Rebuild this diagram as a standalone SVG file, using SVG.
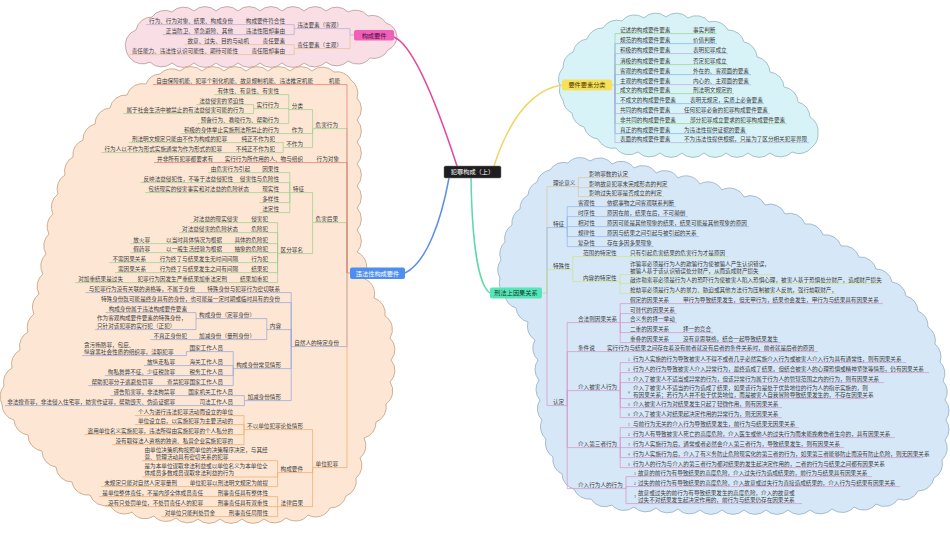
<svg xmlns="http://www.w3.org/2000/svg" width="950" height="535" viewBox="0 0 950 535">
<style>
.t{font-family:"Noto Sans CJK SC","Noto Sans",sans-serif;font-size:5.6px;fill:#3c3c3c}
.e{text-anchor:end}
.k{font-size:3.4px;fill:#666}
.bt{font-family:"Noto Sans CJK SC","Noto Sans",sans-serif;font-size:6.2px;text-anchor:middle}
.lk{fill:none;stroke-width:0.7}
.main{fill:none;stroke-width:1.5}
.cl{stroke-width:0.8}
.red{stroke:#e57373}.grn{stroke:#95d08c}.pur{stroke:#b4a7d6}.tan{stroke:#e3c28f}.blu{stroke:#8fa3e0}.org{stroke:#f0aa62}
.c1{stroke:#9bd38f}.c2{stroke:#8aaeea}.c3{stroke:#b9aee0}
.tn{stroke:#dcc49a}.sb{stroke:#8fb4e6}.yg{stroke:#d3e27c}.pk{stroke:#d890c6}
</style>
<rect width="950" height="535" fill="#ffffff"/>
<g id="clouds">
<path class="cl" fill="#f9dee5" stroke="#b79a98" d="M126 50 A16 16 0 0 1 136 30 A16 16 0 0 1 152 17 A16 16 0 0 1 172 12 A16 16 0 0 1 194 11 A16 16 0 0 1 216 11 A16 16 0 0 1 238 11 A16 16 0 0 1 260 11 A16 16 0 0 1 282 11 A16 16 0 0 1 304 11 A16 16 0 0 1 326 11 A16 16 0 0 1 348 12 A16 16 0 0 1 368 16 A16 16 0 0 1 386 23 A16 16 0 0 1 397 36 A16 16 0 0 1 388 50 A16 16 0 0 1 370 58 A16 16 0 0 1 348 61 A16 16 0 0 1 326 62 A16 16 0 0 1 304 63 A16 16 0 0 1 282 63 A16 16 0 0 1 260 63 A16 16 0 0 1 238 63 A16 16 0 0 1 216 63 A16 16 0 0 1 194 63 A16 16 0 0 1 172 63 A16 16 0 0 1 150 62 A16 16 0 0 1 130 58 A16 16 0 0 1 126 50 Z"/>
<path class="cl" fill="#fde7d4" stroke="#c3a07c" d="M146 84 A16 16 0 0 1 160 74 A16 16 0 0 1 180 71 A16 16 0 0 1 202 71 A16 16 0 0 1 224 71 A16 16 0 0 1 246 71 A16 16 0 0 1 268 71 A16 16 0 0 1 290 71 A16 16 0 0 1 312 71 A16 16 0 0 1 334 72 A16 16 0 0 1 351 80 A16 16 0 0 1 357 98 A16 16 0 0 1 357 120 A16 16 0 0 1 357 142 A16 16 0 0 1 357 164 A16 16 0 0 1 357 186 A16 16 0 0 1 357 208 A16 16 0 0 1 357 230 A16 16 0 0 1 357 252 A16 16 0 0 1 362 278 A16 16 0 0 1 374 298 A16 16 0 0 1 385 316 A16 16 0 0 1 390 338 A16 16 0 0 1 391 360 A16 16 0 0 1 390 382 A16 16 0 0 1 386 404 A16 16 0 0 1 376 422 A16 16 0 0 1 364 438 A16 16 0 0 1 360 458 A16 16 0 0 1 356 478 A16 16 0 0 1 346 496 A16 16 0 0 1 330 508 A16 16 0 0 1 308 515 A16 16 0 0 1 286 518 A16 16 0 0 1 264 519 A16 16 0 0 1 242 519 A16 16 0 0 1 220 519 A16 16 0 0 1 198 519 A16 16 0 0 1 176 518 A16 16 0 0 1 154 516 A16 16 0 0 1 132 512 A16 16 0 0 1 110 505 A16 16 0 0 1 90 495 A16 16 0 0 1 72 482 A16 16 0 0 1 56 467 A16 16 0 0 1 42 451 A16 16 0 0 1 28 435 A16 16 0 0 1 14 420 A16 16 0 0 1 2 404 A16 16 0 0 1 4 386 A16 16 0 0 1 12 368 A16 16 0 0 1 20 350 A16 16 0 0 1 28 332 A16 16 0 0 1 34 314 A16 16 0 0 1 39 294 A16 16 0 0 1 43 274 A16 16 0 0 1 46 254 A16 16 0 0 1 49 234 A16 16 0 0 1 53 214 A16 16 0 0 1 58 194 A16 16 0 0 1 65 175 A16 16 0 0 1 73 157 A16 16 0 0 1 83 140 A16 16 0 0 1 95 124 A16 16 0 0 1 110 108 A16 16 0 0 1 127 95 A16 16 0 0 1 146 84 Z"/>
<path class="cl" fill="#d8f3f7" stroke="#95b2bd" d="M560 86 A16 16 0 0 1 563 68 A16 16 0 0 1 573 52 A16 16 0 0 1 587 39 A16 16 0 0 1 603 28 A16 16 0 0 1 622 21 A16 16 0 0 1 644 18 A16 16 0 0 1 666 17 A16 16 0 0 1 688 18 A16 16 0 0 1 709 22 A16 16 0 0 1 728 30 A16 16 0 0 1 744 42 A16 16 0 0 1 757 57 A16 16 0 0 1 770 72 A16 16 0 0 1 784 87 A16 16 0 0 1 798 102 A16 16 0 0 1 810 117 A16 16 0 0 1 818 133 A16 16 0 0 1 812 147 A16 16 0 0 1 792 152 A16 16 0 0 1 770 153 A16 16 0 0 1 748 153 A16 16 0 0 1 726 153 A16 16 0 0 1 704 153 A16 16 0 0 1 682 153 A16 16 0 0 1 660 153 A16 16 0 0 1 638 152 A16 16 0 0 1 616 148 A16 16 0 0 1 598 139 A16 16 0 0 1 584 127 A16 16 0 0 1 572 113 A16 16 0 0 1 563 100 A16 16 0 0 1 560 86 Z"/>
<path class="cl" fill="#d6e8f8" stroke="#95adc0" d="M537 182 A16 16 0 0 1 550 170 A16 16 0 0 1 568 163 A16 16 0 0 1 590 161 A16 16 0 0 1 612 164 A16 16 0 0 1 634 168 A16 16 0 0 1 656 173 A16 16 0 0 1 678 178 A16 16 0 0 1 700 184 A16 16 0 0 1 722 190 A16 16 0 0 1 744 197 A16 16 0 0 1 765 205 A16 16 0 0 1 785 214 A16 16 0 0 1 805 224 A16 16 0 0 1 823 235 A16 16 0 0 1 841 246 A16 16 0 0 1 859 257 A16 16 0 0 1 876 269 A16 16 0 0 1 892 282 A16 16 0 0 1 906 296 A16 16 0 0 1 918 311 A16 16 0 0 1 928 327 A16 16 0 0 1 935 344 A16 16 0 0 1 940 362 A16 16 0 0 1 943 381 A16 16 0 0 1 945 400 A16 16 0 0 1 946 420 A16 16 0 0 1 945 440 A16 16 0 0 1 942 460 A16 16 0 0 1 934 478 A16 16 0 0 1 918 491 A16 16 0 0 1 898 499 A16 16 0 0 1 876 504 A16 16 0 0 1 854 507 A16 16 0 0 1 832 509 A16 16 0 0 1 810 510 A16 16 0 0 1 788 510 A16 16 0 0 1 766 510 A16 16 0 0 1 744 510 A16 16 0 0 1 722 510 A16 16 0 0 1 700 510 A16 16 0 0 1 678 509 A16 16 0 0 1 656 508 A16 16 0 0 1 634 507 A16 16 0 0 1 612 505 A16 16 0 0 1 591 499 A16 16 0 0 1 574 489 A16 16 0 0 1 562 474 A16 16 0 0 1 553 457 A16 16 0 0 1 546 439 A16 16 0 0 1 542 420 A16 16 0 0 1 540 400 A16 16 0 0 1 539 380 A16 16 0 0 1 538 360 A16 16 0 0 1 535 340 A16 16 0 0 1 528 322 A16 16 0 0 1 516 308 A16 16 0 0 1 505 295 A16 16 0 0 1 500 278 A16 16 0 0 1 501 260 A16 16 0 0 1 505 242 A16 16 0 0 1 512 225 A16 16 0 0 1 520 209 A16 16 0 0 1 528 195 A16 16 0 0 1 537 182 Z"/>
</g>
<g id="connectors">
<path class="main" stroke="#e4479f" d="M394 37 C416 46 442 120 457 166"/>
<path class="main" stroke="#5a8fe6" d="M449 178 C441 222 426 263 405 273"/>
<path class="main" stroke="#f0d460" d="M494 166 C509 120 530 90 562 85"/>
<path class="main" stroke="#5fd8aa" d="M471 178 C472 240 478 285 490 293"/>
<path class="lk pur" d="M354 35 H350 V28.6 H294.2 M294.2 28.6 V24.6 H146 M294.2 28.6 V34.6 H162.8"/>
<path class="lk tan" d="M350 35 V48.6 H294.2 M294.2 48.6 V44.6 H184.4 M294.2 48.6 V54.6 H128.6"/>
<path class="lk grn" d="M347 273 V128.6 H312.6 M312.6 128.6 V109.6 H288.8 M288.8 109.6 V94.6 H214.4 M288.8 109.6 V108.6 H253.6 M253.6 108.6 V104.6 H196.2 M253.6 108.6 V113.6 H123.4 M288.8 109.6 V123.6 H197.6 M312.6 128.6 V133.6 H180.8 M312.6 128.6 V147.6 H283.2 M283.2 147.6 V142.6 H128.8 M283.2 147.6 V152.6 H101.4"/>
<path class="lk grn" d="M347 273 V222.6 H312.6 M312.6 222.6 V192.6 H289.8 M289.8 192.6 V172.6 H207.8 M289.8 192.6 V182.6 H140.4 M289.8 192.6 H145.2 M289.8 192.6 V202.6 H259.2 M289.8 192.6 V212.6 H259.2 M312.6 222.6 V253.6 H277.6 M277.6 253.6 V222.6 H190.2 M277.6 253.6 V232.6 H179 M277.6 253.6 V243.6 H130.2 M277.6 253.6 V252.6 H130.2 M277.6 253.6 V262.6 H109.4 M277.6 253.6 V272.6 H115 M277.6 253.6 V282.6 H75.2"/>
<path class="lk red" d="M347 273 V84.6 H153 M347 273 V162.6 H154 M350 273 H347"/>
<path class="lk blu" d="M347 273 V346.6 H291.2 M291.2 346.6 V292.6 H85.6 M291.2 346.6 V302.6 H109 M291.2 346.6 V329.6 H266.8 M266.8 329.6 V318.6 H196 M196 318.6 V312.6 H105.6 M196 318.6 V329.6 H95 M266.8 329.6 V339.6 H150.4 M291.2 346.6 V368.6 H233.2 M233.2 368.6 V351.6 H186.4 V355.6 H82 M233.2 368.6 V365.6 H144 M233.2 368.6 V375.6 H104.8 M233.2 368.6 V385.6 H88.4 M291.2 346.6 V400.6 H244.4 M244.4 400.6 V395.6 H110.4 M244.4 400.6 V405.6 H5"/>
<path class="lk org" d="M347 273 V467.6 H312.6 M312.6 467.6 V429.6 H244 M244 429.6 V415.6 H134.8 M244 429.6 V424.6 H134.8 M244 429.6 V434.6 H84.4 M244 429.6 V444.6 H112.4 M312.6 467.6 V472.6 H277.6 M277.6 472.6 V460.6 H142 M277.6 472.6 V477 H142 M277.6 472.6 V486.6 H101.2 M312.6 467.6 V506.6 H277.6 M277.6 506.6 V496.6 H99.2 M277.6 506.6 H104.8 M277.6 506.6 V516.6 H161.6"/>
<path class="lk c1" d="M612 85 H615 V33.6 H717 M615 85 V64.6 H728 M615 85 V93.6 H734 M615 85 V123.6 H787"/>
<path class="lk c2" d="M615 85 V43.6 H717 M615 85 V74.6 H751 M615 85 V103.6 H764 M615 85 V133.6 H747"/>
<path class="lk c3" d="M615 85 V53.6 H728 M615 85 V84.6 H751 M615 85 V113.6 H770 M615 85 V142.6 H809"/>
<path class="lk tn" d="M542 293 H547 V186.6 H578.4 M578.4 186.6 V177.6 H630 M578.4 186.6 V187.6 H669 M578.4 186.6 V196.6 H664"/>
<path class="lk sb" d="M547 293 V227.6 H567.2 M567.2 227.6 V206.6 H676 M567.2 227.6 V216.6 H688 M567.2 227.6 V226.6 H749 M567.2 227.6 V236.6 H699 M567.2 227.6 V246.6 H654"/>
<path class="lk yg" d="M547 293 V269.6 H572.8 M572.8 269.6 V256.6 H728 M572.8 269.6 V281.6 H620 M620 281.6 V274.6 H772 M620 281.6 V283.6 H881 M620 281.6 V293.6 H836"/>
<path class="lk pk" d="M547 293 V405.6 H567.2 M567.2 405.6 V322.6 H620.2 M620.2 322.6 V303.6 H883 M620.2 322.6 V313.6 H677 M620.2 322.6 H677 M620.2 322.6 V332.6 H713 M620.2 322.6 V342.6 H781 M567.2 405.6 V351.6 H818 M567.2 405.6 V390.6 H620.2 M620.2 390.6 V362.6 H906 M620.2 390.6 V372.6 H929 M620.2 390.6 V382.6 H884 M620.2 390.6 V398.6 H867 M620.2 390.6 V407.6 H782 M620.2 390.6 V417.6 H782 M567.2 405.6 V447.6 H620.2 M620.2 447.6 V427.6 H799 M620.2 447.6 V437.6 H895 M620.2 447.6 H844 M620.2 447.6 V457.6 H923 M620.2 447.6 V467.6 H872 M567.2 405.6 V488.6 H626 M626 488.6 V476.6 H872 M626 488.6 V486.6 H900 M626 488.6 V503.6 H802"/>
</g>
<g id="root">
<rect x="444" y="166" width="57" height="12" rx="1.5" fill="#1e1e1e" stroke="#777" stroke-width="0.5"/>
<text class="bt" x="472.5" y="174.3" fill="#ffffff">犯罪构成（上）</text>
</g>
<g id="n-gouchengyaojian">
<rect x="354" y="30" width="40" height="10.5" rx="2" fill="#f060b8"/>
<text class="bt" x="374" y="37.5" fill="#4a1040">构成要件</text>
</g>
<g id="n-gouchengyaojian-sub">
<text class="t e" x="342" y="27">违法要素（客观）</text>
<text class="t e" x="285" y="23">构成要件符合性</text>
<text class="t e" x="233" y="23">行为、行为对象、结果、构成身份</text>
<text class="t e" x="285" y="33">违法性阻却事由</text>
<text class="t e" x="233" y="33">正当防卫、紧急避险、其他</text>
<text class="t e" x="342" y="47">责任要素（主观）</text>
<text class="t e" x="285" y="43">责任要素</text>
<text class="t e" x="249" y="43">故意、过失、目的与动机</text>
<text class="t e" x="285" y="53">责任阻却事由</text>
<text class="t e" x="238" y="53">责任能力、违法性认识可能性、期待可能性</text>
</g>
<g id="n-weifaxing">
<rect x="350" y="267.5" width="55" height="11.5" rx="2" fill="#4d8ef0"/>
<text class="bt" x="377.5" y="275.5" fill="#ffffff">违法性构成要件</text>
</g>
<g id="n-jineng">
<text class="t e" x="340" y="83">机能</text>
<text class="t e" x="313" y="83">自由保障机能、犯罪个别化机能、故意规制机能、违法推定机能</text>
</g>
<g id="n-weihaixingwei">
<text class="t e" x="338" y="127">危害行为</text>
<text class="t e" x="303" y="108">分类</text>
<text class="t e" x="279" y="93">有体性、有意性、有害性</text>
<text class="t e" x="279" y="107">实行行为</text>
<text class="t e" x="244" y="103">法益侵害的紧迫性</text>
<text class="t e" x="244" y="112">属于社会生活中被禁止的有法益侵害可能的行为</text>
<text class="t e" x="279" y="122">预备行为、教唆行为、帮助行为</text>
<text class="t e" x="303" y="132">作为</text>
<text class="t e" x="279" y="132">积极的身体举止实施刑法所禁止的行为</text>
<text class="t e" x="303" y="146">不作为</text>
<text class="t e" x="275" y="141">纯正不作为犯</text>
<text class="t e" x="227" y="141">刑法明文规定只能由不作为构成的犯罪</text>
<text class="t e" x="275" y="151">不纯正不作为犯</text>
<text class="t e" x="222" y="151">行为人以不作为形式实施通常为作为形式的犯罪</text>
</g>
<g id="n-xingweiduixiang">
<text class="t e" x="339" y="161">行为对象</text>
<text class="t e" x="303" y="161">实行行为所作用的人、物与组织</text>
<text class="t e" x="213" y="161">并非所有犯罪都要求有</text>
</g>
<g id="n-weihaihouguo">
<text class="t e" x="338" y="221">危害后果</text>
<text class="t e" x="304" y="191">特征</text>
<text class="t e" x="279" y="171">因果性</text>
<text class="t e" x="250" y="171">由危害行为引起</text>
<text class="t e" x="279" y="181">侵害性与危险性</text>
<text class="t e" x="233" y="181">反映法益侵犯性，不等于法益侵犯性</text>
<text class="t e" x="279" y="191">现实性</text>
<text class="t e" x="249" y="191">包括现实的侵害事实和对法益的危险状态</text>
<text class="t e" x="279" y="201">多样性</text>
<text class="t e" x="279" y="211">法定性</text>
<text class="t e" x="303" y="252">区分罪名</text>
<text class="t e" x="268" y="221">侵害犯</text>
<text class="t e" x="238" y="221">对法益的现实侵害</text>
<text class="t e" x="268" y="231">危险犯</text>
<text class="t e" x="238" y="231">对法益侵害的危险状态</text>
<text class="t e" x="268" y="242">具体的危险犯</text>
<text class="t e" x="222" y="242">以当时具体情况为根据</text>
<text class="t e" x="150" y="242">放火罪</text>
<text class="t e" x="268" y="251">抽象的危险犯</text>
<text class="t e" x="222" y="251">以一般生活经验为根据</text>
<text class="t e" x="150" y="251">假药罪</text>
<text class="t e" x="268" y="261">行为犯</text>
<text class="t e" x="238" y="261">行为终了与结果发生无时间间隔</text>
<text class="t e" x="146" y="261">不需因果关系</text>
<text class="t e" x="268" y="271">结果犯</text>
<text class="t e" x="238" y="271">行为终了与结果发生之间有间隔</text>
<text class="t e" x="146" y="271">需因果关系</text>
<text class="t e" x="268" y="281">结果加重犯</text>
<text class="t e" x="227" y="281">犯罪行为因发生严重结果加重法定刑</text>
<text class="t e" x="123" y="281">对加重结果是过失</text>
</g>
<g id="n-ziranren">
<text class="t e" x="339" y="345">自然人的特定身份</text>
<text class="t e" x="280" y="291">特殊身份与犯罪行为密切联系</text>
<text class="t e" x="195" y="291">与犯罪行为没有关联的资格等，不属于身份</text>
<text class="t e" x="280" y="301">特殊身份既可能是终身具有的身份，也可能是一定时期或临时具有的身份</text>
<text class="t e" x="281" y="328">内容</text>
<text class="t e" x="255" y="317">构成身份（定罪身份）</text>
<text class="t e" x="187" y="311">构成身份属于违法构成要件要素</text>
<text class="t" x="97" y="320">作为客观构成要件要素的特殊身份，</text>
<text class="t" x="97" y="328">只针对该犯罪的实行犯（正犯）</text>
<text class="t e" x="255" y="338">加减身份（量刑身份）</text>
<text class="t e" x="187" y="338">不真正身份犯</text>
<text class="t e" x="281" y="367">构成身份常见情形</text>
<text class="t e" x="223" y="350">国家工作人员</text>
<text class="t" x="84" y="347">贪污贿赂罪，包庇、</text>
<text class="t" x="84" y="354">纵容黑社会性质的组织罪，渎职犯罪</text>
<text class="t e" x="223" y="364">海关工作人员</text>
<text class="t e" x="175" y="364">放纵走私罪</text>
<text class="t e" x="223" y="374">税务工作人员</text>
<text class="t e" x="175" y="374">徇私舞弊不征、少征税款罪</text>
<text class="t e" x="223" y="384">查禁犯罪国家工作人员</text>
<text class="t e" x="153" y="384">帮助犯罪分子逃避处罚罪</text>
<text class="t e" x="281" y="399">加减身份情形</text>
<text class="t e" x="233" y="394">国家机关工作人员</text>
<text class="t e" x="175" y="394">诬告陷害罪，非法拘禁罪</text>
<text class="t e" x="233" y="404">司法工作人员</text>
<text class="t e" x="175" y="404">非法搜查罪，非法侵入住宅罪，妨害作证罪，帮助毁灭、伪造证据罪</text>
</g>
<g id="n-danweifanzui">
<text class="t e" x="338" y="466">单位犯罪</text>
<text class="t e" x="303" y="428">不以单位犯罪论处情形</text>
<text class="t e" x="233" y="414">个人为进行违法犯罪活动而设立的单位</text>
<text class="t e" x="233" y="423">单位设立后，以实施犯罪为主要活动的</text>
<text class="t e" x="233" y="433">盗用单位名义实施犯罪，违法所得由实施犯罪的个人私分的</text>
<text class="t e" x="233" y="443">没有取得法人资格的独资、私营企业实施犯罪的</text>
<text class="t e" x="303" y="471">构成要件</text>
<text class="t" x="144.5" y="452">由单位决策机构按照单位的决策程序决定，与其经</text>
<text class="t" x="144.5" y="459">营、管理活动具有密切关系的犯罪</text>
<text class="t" x="144.5" y="468.3">是为本单位谋取非法利益或以单位名义为本单位全</text>
<text class="t" x="144.5" y="475.3">体成员多数成员谋取非法利益的行为</text>
<text class="t e" x="268" y="485">单位犯罪以刑法明文规定为前提</text>
<text class="t e" x="177" y="485">未规定只能对自然人定罪量刑</text>
<text class="t e" x="303" y="505">法律后果</text>
<text class="t e" x="268" y="495">刑事责任具有整体性</text>
<text class="t e" x="203" y="495">是单位整体责任，不是内部全体成员责任</text>
<text class="t e" x="268" y="505">刑事责任具有双重性</text>
<text class="t e" x="203" y="505">没有只处罚单位，不处罚责任人的犯罪</text>
<text class="t e" x="268" y="515">刑事责任局限性</text>
<text class="t e" x="215" y="515">对单位只能判处罚金</text>
</g>
<g id="n-yaojianfenlei">
<rect x="562" y="79.5" width="50" height="11" rx="2" fill="#f7e15a"/>
<text class="bt" x="587" y="87.2" fill="#4a3a00">要件要素分类</text>
</g>
<g id="n-yaojianfenlei-sub">
<text class="t" x="620" y="32">记述的构成要件要素</text><text class="t" x="693" y="32">事实判断</text>
<text class="t" x="620" y="42">规范的构成要件要素</text><text class="t" x="693" y="42">价值判断</text>
<text class="t" x="620" y="52">积极的构成要件要素</text><text class="t" x="693" y="52">表明犯罪成立</text>
<text class="t" x="620" y="63">消极的构成要件要素</text><text class="t" x="693" y="63">否定犯罪成立</text>
<text class="t" x="620" y="73">客观的构成要件要素</text><text class="t" x="693" y="73">外在的、客观面的要素</text>
<text class="t" x="620" y="83">主观的构成要件要素</text><text class="t" x="693" y="83">内心的、主观面的要素</text>
<text class="t" x="620" y="92">成文的构成要件要素</text><text class="t" x="693" y="92">刑法明文规定的</text>
<text class="t" x="620" y="102">不成文的构成要件要素</text><text class="t" x="690" y="102">表明无规定，实质上必备要素</text>
<text class="t" x="620" y="112">共同的构成要件要素</text><text class="t" x="684" y="112">任何犯罪必备的犯罪构成要件要素</text>
<text class="t" x="620" y="122">非共同的构成要件要素</text><text class="t" x="690" y="122">部分犯罪成立要求的犯罪构成要件要素</text>
<text class="t" x="620" y="132">真正的构成要件要素</text><text class="t" x="684" y="132">为违法性提供证据的要素</text>
<text class="t" x="620" y="141">表面的构成要件要素</text><text class="t" x="684" y="141">不为违法性提供根据，只是为了区分相关犯罪界限</text>
</g>
<g id="n-yinguo">
<rect x="490" y="287.5" width="52" height="11" rx="2" fill="#55e6b8"/>
<text class="bt" x="516" y="295.2" fill="#153a2e">刑法上因果关系</text>
</g>
<g id="n-lilunyiyi">
<text class="t" x="553" y="185">理论意义</text>
<text class="t" x="589" y="176">影响罪数的认定</text>
<text class="t" x="589" y="186">影响故意犯罪未完成形态的判定</text>
<text class="t" x="589" y="195">影响过失犯罪是否成立的判定</text>
</g>
<g id="n-tezheng">
<text class="t" x="553" y="226">特征</text>
<text class="t" x="578" y="205">客观性</text><text class="t" x="607" y="205">依据事物之间客观联系判断</text>
<text class="t" x="578" y="215">时序性</text><text class="t" x="607" y="215">原因在前，结果在后，不可颠倒</text>
<text class="t" x="578" y="225">相对性</text><text class="t" x="607" y="225">原因可能是其他现象的结果，结果可能是其他现象的原因</text>
<text class="t" x="578" y="235">规律性</text><text class="t" x="607" y="235">原因与结果之间引起与被引起的关系</text>
<text class="t" x="578" y="245">复杂性</text><text class="t" x="607" y="245">存在多因多果现象</text>
</g>
<g id="n-teshuxing">
<text class="t" x="553" y="268">特殊性</text>
<text class="t" x="583" y="255">范围的特定性</text><text class="t" x="630" y="255">只有引起危害结果的危害行为才是原因</text>
<text class="t" x="583" y="280">内容的特定性</text>
<text class="t" x="630" y="266">诈骗罪必须是行为人的欺骗行为使被骗人产生认识错误，</text>
<text class="t" x="630" y="273">被骗人基于该认识错误处分财产，从而造成财产损失</text>
<text class="t" x="630" y="282">敲诈勒索罪必须是行为人的恐吓行为使被害人陷入恐惧心理，被害人基于恐惧处分财产，造成财产损失</text>
<text class="t" x="630" y="292">抢劫罪必须是行为人的暴力、胁迫或其他方法行为压制被害人反抗，强行劫取财产，</text>
</g>
<g id="n-rending">
<text class="t" x="553" y="404">认定</text>
<text class="t" x="578" y="321">合法则因果关系</text>
<text class="t" x="630" y="302">假定的因果关系</text><text class="t" x="683" y="302">甲行为导致结果发生，但无甲行为，结果也会发生，甲行为与结果具有因果关系</text>
<text class="t" x="630" y="312">可替代的因果关系</text>
<text class="t" x="630" y="321">合义务的择一举动</text>
<text class="t" x="630" y="331">二重的因果关系</text><text class="t" x="683" y="331">择一的竞合</text>
<text class="t" x="630" y="341">重叠的因果关系</text><text class="t" x="683" y="341">没有意思联络，结合一起导致结果发生</text>
<text class="t" x="578" y="350">条件说</text><text class="t" x="607" y="350">实行行为与结果之间存在着没有前者就没有后者的条件关系时，前者就是后者的原因</text>
<text class="t" x="578" y="389">介入被害人行为</text>
<text class="t k" x="628" y="360.5">1</text><text class="t" x="633" y="361">行为人实施的行为导致被害人不得不或者几乎必然实施介入行为或被害人介入行为具有通常性，则有因果关系</text>
<text class="t k" x="628" y="370.5">2</text><text class="t" x="633" y="371">行为人的行为导致被害人介入异常行为，最终造成了结果，但结合被害人的心理恐惧或精神紧张等情形，仍有因果关系</text>
<text class="t k" x="628" y="380.5">3</text><text class="t" x="633" y="381">介入了被害人不适当或异常的行为，但该异常行为属于行为人的管辖范围之内的行为，则有因果关系</text>
<text class="t k" x="628" y="393.5">4</text><text class="t" x="633" y="390">介入了被害人不适当的行为造成了结果，如果该行为是处于优势地位的行为人的指示实施的，则</text>
<text class="t" x="633" y="397">有因果关系；若行为人并不处于优势地位，而是被害人自我冒险导致结果发生的，不存在因果关系</text>
<text class="t k" x="628" y="405.5">5</text><text class="t" x="633" y="406">介入被害人行为对结果发生只起了轻微作用，则有因果关系</text>
<text class="t k" x="628" y="415.5">6</text><text class="t" x="633" y="416">介入了被害人对结果起决定作用的异常行为，则无因果关系</text>
<text class="t" x="578" y="446">介入第三者行为</text>
<text class="t k" x="628" y="425.5">1</text><text class="t" x="633" y="426">与前行为无关的介入行为导致结果发生，前行为与结果无因果关系</text>
<text class="t k" x="628" y="435.5">2</text><text class="t" x="633" y="436">行为人有导致被害人死亡的高度危险，介入医生或他人的过失行为而未能挽救伤者生命的，具有因果关系</text>
<text class="t k" x="628" y="445.5">3</text><text class="t" x="633" y="446">行为人实施行为后，通常或者必然会介入第三者行为，导致结果发生，则有因果关系</text>
<text class="t k" x="628" y="455.5">4</text><text class="t" x="633" y="456">行为人实施行为后，介入了有义务防止危险现实化的第三者的行为，如果第三者能够防止而没有防止危险，则无因果关系</text>
<text class="t k" x="628" y="465.5">5</text><text class="t" x="633" y="466">行为人的行为与介入的第三者行为都对结果的发生起决定作用的，二者的行为与结果之间都有因果关系</text>
<text class="t" x="578" y="487">介入行为人的行为</text>
<text class="t k" x="634" y="474.5">1</text><text class="t" x="638" y="475">故意的前行为有导致结果的高度危险，介入过失行为造成结果的，前行为与结果具有因果关系</text>
<text class="t k" x="634" y="484.5">2</text><text class="t" x="638" y="485">过失的前行为有导致结果的高度危险，介入故意或过失行为直接造成结果的，介入行为与结果有因果关系</text>
<text class="t k" x="634" y="498">3</text><text class="t" x="638" y="495">故意或过失的前行为有导致结果发生的高度危险，介入的故意或</text>
<text class="t" x="638" y="502">过失不对结果发生起决定作用的，前行为与结果仍存在因果关系</text>
</g>
</svg>
